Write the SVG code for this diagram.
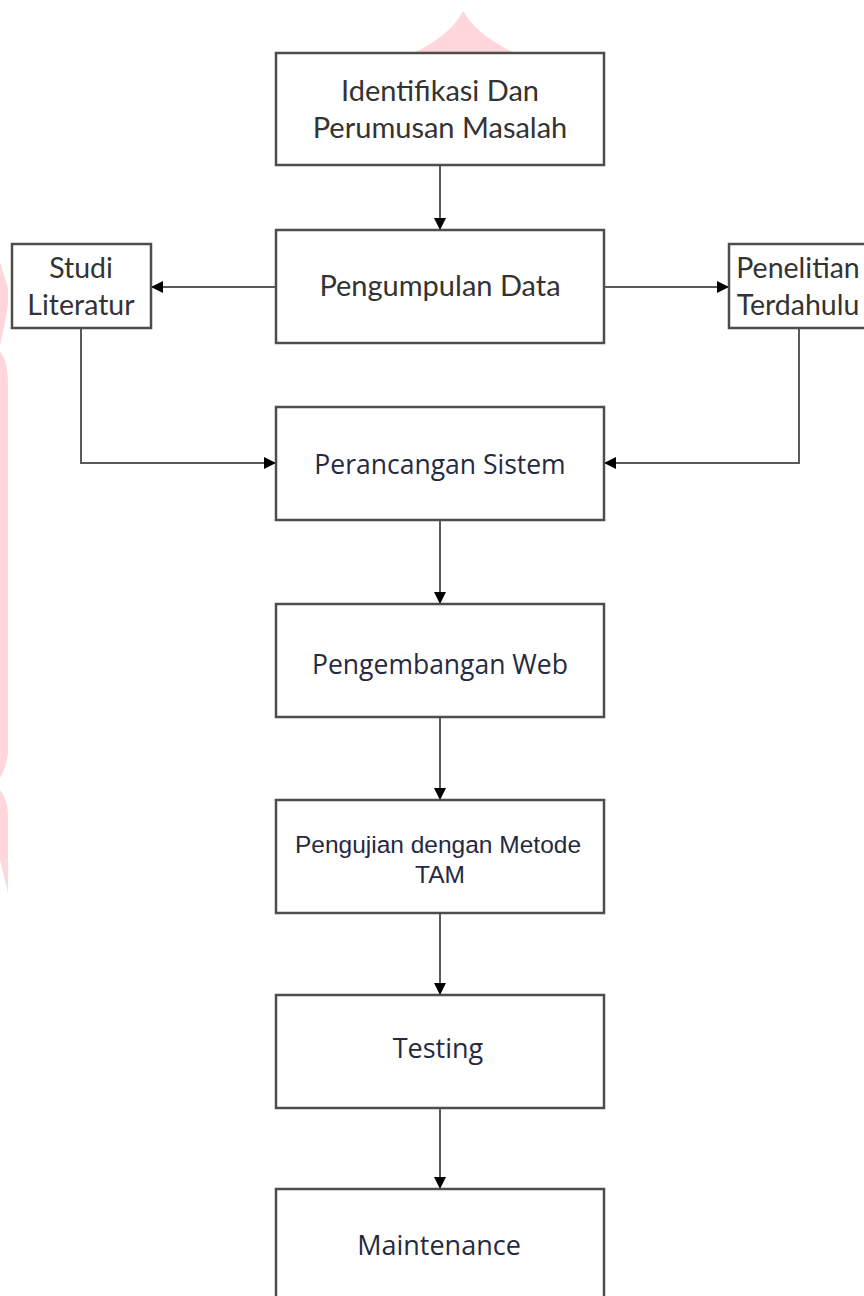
<svg xmlns="http://www.w3.org/2000/svg" width="864" height="1296" viewBox="0 0 864 1296">
<style>
.box{fill:#fff;stroke:#4d4d4d;stroke-width:2.5}
.c{fill:none;stroke:#5a5a5a;stroke-width:2}
.cal{font-family:Lato,"Open Sans",sans-serif;fill:#333;text-anchor:middle}
.seg{font-family:"Open Sans","Noto Sans",sans-serif;fill:#262a40;text-anchor:middle}
.ar{font-family:"Liberation Sans",Arial,sans-serif;fill:#262a40;text-anchor:middle}
.wm{fill:#ffd6d9}
</style>
<defs>
<marker id="ah" viewBox="0 0 12 12" refX="12" refY="6" markerWidth="12" markerHeight="12" markerUnits="userSpaceOnUse" orient="auto">
<path d="M0,0 L12,6 L0,12 Z" fill="#000"/>
</marker>
</defs>
<rect width="864" height="1296" fill="#fff"/>
<g id="watermark">
<path class="wm" d="M463,11 Q450,38 402,58 L526,58 Q478,38 463,11 Z"/>
<path class="wm" d="M0,262 L8,288 L8,305 Q5,325 0,345 Z"/>
<path class="wm" d="M0,352 Q8,360 8,385 L8,755 Q5,770 0,778 Z"/>
<path class="wm" d="M0,790 Q8,800 8,815 L8,893 L0,860 Z"/>
</g>
<g id="connectors">
<line class="c" x1="440" y1="165" x2="440" y2="230" marker-end="url(#ah)"/>
<line class="c" x1="276" y1="287" x2="151" y2="287" marker-end="url(#ah)"/>
<line class="c" x1="604" y1="287" x2="729" y2="287" marker-end="url(#ah)"/>
<polyline class="c" points="81,328 81,463 276,463" marker-end="url(#ah)"/>
<polyline class="c" points="799,328 799,463 604,463" marker-end="url(#ah)"/>
<line class="c" x1="440" y1="520" x2="440" y2="604" marker-end="url(#ah)"/>
<line class="c" x1="440" y1="717" x2="440" y2="800" marker-end="url(#ah)"/>
<line class="c" x1="440" y1="913" x2="440" y2="995" marker-end="url(#ah)"/>
<line class="c" x1="440" y1="1108" x2="440" y2="1189" marker-end="url(#ah)"/>
</g>
<g id="n1">
<rect class="box" x="276" y="53" width="328" height="112"/>
<text class="cal" x="440" y="101" font-size="29">Identifikasi Dan</text>
<text class="cal" x="440" y="138" font-size="29">Perumusan Masalah</text>
</g>
<g id="n2">
<rect class="box" x="276" y="230" width="328" height="113"/>
<text class="cal" x="440" y="296" font-size="29">Pengumpulan Data</text>
</g>
<g id="n_studi">
<rect class="box" x="12" y="244" width="139" height="84"/>
<text class="cal" x="81" y="278" font-size="28.5">Studi</text>
<text class="cal" x="81" y="315" font-size="28.5">Literatur</text>
</g>
<g id="n_penelitian">
<rect class="box" x="729" y="244" width="140" height="84"/>
<text class="cal" x="798" y="278" font-size="28.5">Penelitian</text>
<text class="cal" x="798" y="315" font-size="28.5">Terdahulu</text>
</g>
<g id="n3">
<rect class="box" x="276" y="407" width="328" height="113"/>
<text class="seg" x="440" y="474" font-size="26.5">Perancangan Sistem</text>
</g>
<g id="n4">
<rect class="box" x="276" y="604" width="328" height="113"/>
<text class="seg" x="440" y="674" font-size="26.5">Pengembangan Web</text>
</g>
<g id="n5">
<rect class="box" x="276" y="800" width="328" height="113"/>
<text class="ar" x="438" y="853" font-size="24.5">Pengujian dengan Metode</text>
<text class="ar" x="440" y="883" font-size="24.5">TAM</text>
</g>
<g id="n6">
<rect class="box" x="276" y="995" width="328" height="113"/>
<text class="seg" x="438" y="1058" font-size="27">Testing</text>
</g>
<g id="n7">
<rect class="box" x="276" y="1189" width="328" height="112"/>
<text class="seg" x="439" y="1255" font-size="27">Maintenance</text>
</g>
</svg>
